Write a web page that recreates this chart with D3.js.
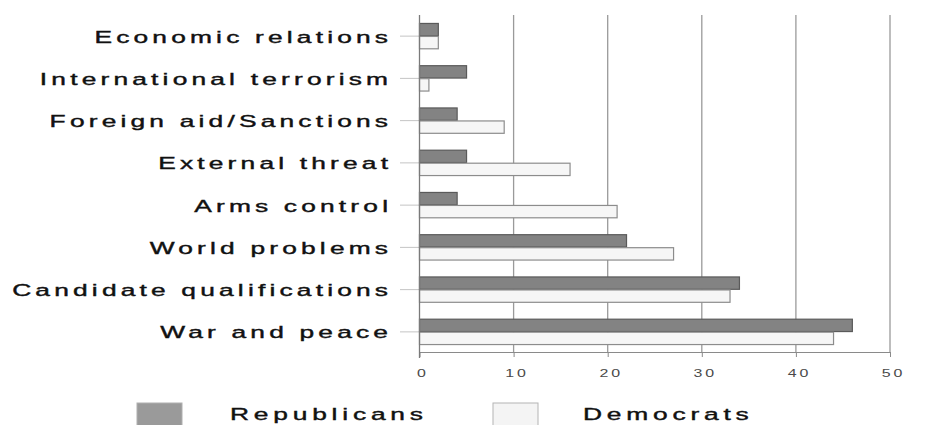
<!DOCTYPE html>
<html>
<head>
<meta charset="utf-8">
<script src="https://cdn.jsdelivr.net/npm/d3@7/dist/d3.min.js"></script>
<style>
  html, body { margin: 0; padding: 0; background: #fff; }
  svg { display: block; }
  text { font-family: "Liberation Sans", Arial, sans-serif; }
  .label { stroke: #111; stroke-width: 0.4px; }
</style>
</head>
<body>
<svg id="chart" width="940" height="425"></svg>
<script>
// Issue categories, top to bottom
const categories = [
  "Economic relations",
  "International terrorism",
  "Foreign aid/Sanctions",
  "External threat",
  "Arms control",
  "World problems",
  "Candidate qualifications",
  "War and peace"
];
const seriesNames = ["Republicans", "Democrats"];
const republicans = [2, 5, 4, 5, 4, 22, 34, 46];
const democrats   = [2, 1, 9, 16, 21, 27, 33, 44];
const xTicks = [0, 10, 20, 30, 40, 50];

const svg = d3.select("#chart");
const plotLeft = 419.5, plotRight = 890, plotTop = 15, plotBottom = 352;
const stretch = 1.55;   // wide lettering
const spacing = 2.7;

const x = d3.scaleLinear().domain([0, 50]).range([plotLeft, plotRight]);
const y = d3.scaleBand().domain(categories).range([plotTop, plotBottom + 1])
  .paddingInner(0.4).paddingOuter(0.2);
const ySub = d3.scaleBand().domain(seriesNames).range([0, y.bandwidth()]).paddingInner(0.05);

const styles = {
  Republicans: { fill: "#838383", stroke: "#5a5a5a" },
  Democrats:   { fill: "#f6f6f6", stroke: "#8c8c8c" }
};

// vertical grid lines
svg.append("g").selectAll("line").data(xTicks.filter(d => d > 0)).join("line")
  .attr("x1", d => x(d)).attr("x2", d => x(d))
  .attr("y1", plotTop).attr("y2", plotBottom)
  .attr("stroke", "#9a9a9a").attr("stroke-width", 1.3);

// bottom axis
const xAxis = svg.append("g").attr("transform", `translate(0,${plotBottom})`)
  .call(d3.axisBottom(x).tickValues(xTicks).tickSize(5).tickSizeOuter(0).tickFormat(d3.format("d")));
xAxis.select(".domain").attr("stroke", "#8a8a8a").attr("stroke-width", 1.2);
xAxis.selectAll(".tick line").attr("stroke", "#8a8a8a");
xAxis.selectAll(".tick text").remove();
xAxis.selectAll(".tick").append("text")
  .attr("transform", `translate(3,25) scale(1.45,1)`)
  .attr("text-anchor", "middle")
  .attr("font-size", 11).attr("letter-spacing", 2)
  .attr("fill", "#4a4a4a")
  .text(d => d);

// category ticks and labels
const cat = svg.append("g");
cat.selectAll("line").data(categories).join("line")
  .attr("x1", 400).attr("x2", plotLeft)
  .attr("y1", d => y(d) + y.bandwidth() / 2).attr("y2", d => y(d) + y.bandwidth() / 2)
  .attr("stroke", "#c4c4c4");
cat.selectAll("text").data(categories).join("text")
  .attr("class", "label")
  .attr("transform", d => `translate(${388 + spacing * stretch},${y(d) + y.bandwidth() / 2 + 6.5}) scale(${stretch},1)`)
  .attr("text-anchor", "end")
  .attr("font-size", 17).attr("letter-spacing", spacing)
  .attr("fill", "#111")
  .text(d => d);

// bars
const rows = categories.map((c, i) => ({ category: c, Republicans: republicans[i], Democrats: democrats[i] }));
const groups = svg.append("g").selectAll("g").data(rows).join("g")
  .attr("transform", d => `translate(0,${y(d.category)})`);
groups.selectAll("rect").data(d => seriesNames.map(s => ({ series: s, value: d[s] }))).join("rect")
  .attr("x", x(0))
  .attr("y", d => ySub(d.series))
  .attr("width", d => x(d.value) - x(0))
  .attr("height", ySub.bandwidth())
  .attr("fill", d => styles[d.series].fill)
  .attr("stroke", d => styles[d.series].stroke)
  .attr("stroke-width", 1.2);

// zero axis line
svg.append("line")
  .attr("x1", x(0)).attr("x2", x(0)).attr("y1", plotTop).attr("y2", plotBottom + 6)
  .attr("stroke", "#7a7a7a").attr("stroke-width", 1.3);

// legend
const legendItems = [
  { name: "Republicans", sx: 137, tx: 230, fill: "#9a9a9a", stroke: "#b0b0b0" },
  { name: "Democrats",   sx: 493, tx: 583, fill: "#f4f4f4", stroke: "#b4b4b4" }
];
const legend = svg.append("g");
legend.selectAll("rect").data(legendItems).join("rect")
  .attr("x", d => d.sx).attr("y", 403).attr("width", 45).attr("height", 26)
  .attr("fill", d => d.fill).attr("stroke", d => d.stroke);
legend.selectAll("text").data(legendItems).join("text")
  .attr("class", "label")
  .attr("transform", d => `translate(${d.tx},420) scale(${stretch},1)`)
  .attr("font-size", 17).attr("letter-spacing", spacing + 0.4)
  .attr("fill", "#111")
  .text(d => d.name);
</script>
</body>
</html>
